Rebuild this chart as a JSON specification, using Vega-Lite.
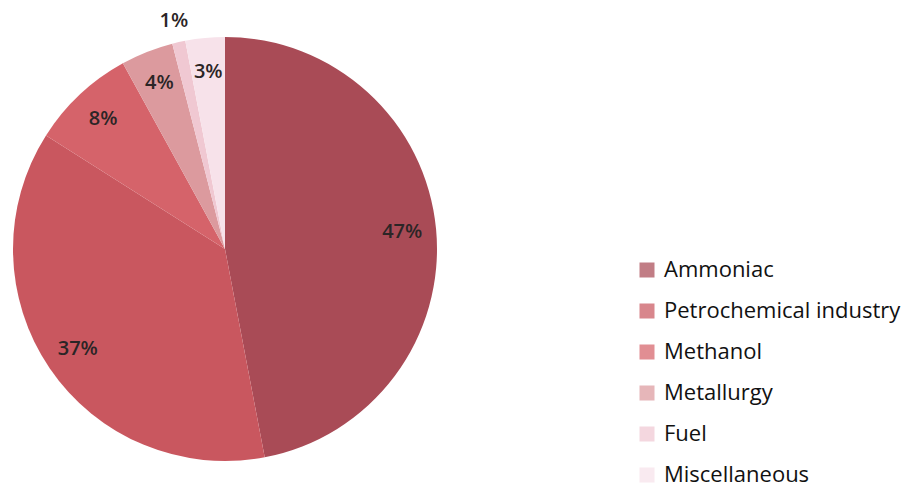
{
  "$schema": "https://vega.github.io/schema/vega-lite/v6.json",
  "width": 450,
  "height": 486,
  "padding": {"top": 6, "left": 0, "right": 0, "bottom": 0},
  "background": "white",
  "config": {"view": {"stroke": null}},
  "data": {
    "values": [
      {"sector": "Ammoniac", "share": 47, "rank": 1, "label": "47%"},
      {"sector": "Petrochemical industry", "share": 37, "rank": 2, "label": "37%"},
      {"sector": "Methanol", "share": 8, "rank": 3, "label": "8%"},
      {"sector": "Metallurgy", "share": 4, "rank": 4, "label": "4%"},
      {"sector": "Fuel", "share": 1, "rank": 5, "label": "1%"},
      {"sector": "Miscellaneous", "share": 3, "rank": 6, "label": "3%"}
    ]
  },
  "encoding": {
    "theta": {"field": "share", "type": "quantitative", "stack": true},
    "order": {"field": "rank", "type": "quantitative"}
  },
  "layer": [
    {
      "mark": {"type": "arc", "outerRadius": 212},
      "encoding": {
        "color": {
          "field": "sector",
          "type": "nominal",
          "sort": ["Ammoniac", "Petrochemical industry", "Methanol", "Metallurgy", "Fuel", "Miscellaneous"],
          "scale": {
            "domain": ["Ammoniac", "Petrochemical industry", "Methanol", "Metallurgy", "Fuel", "Miscellaneous"],
            "range": ["#a94b56", "#c9575f", "#d5636a", "#dc9a9e", "#f0c8d2", "#f7e2ea"]
          },
          "legend": {
            "title": null,
            "orient": "none",
            "legendX": 636,
            "legendY": 253,
            "symbolType": "square",
            "symbolSize": 225,
            "symbolOpacity": 0.72,
            "symbolStrokeWidth": 0,
            "labelFont": "Open Sans",
            "labelFontSize": 22,
            "labelFontWeight": 500,
            "labelColor": "#111111",
            "labelOffset": 6,
            "rowPadding": 19,
            "labelLimit": 400
          }
        }
      }
    },
    {
      "mark": {"type": "text", "radius": 178, "font": "Open Sans", "fontSize": 20, "fontWeight": 600, "color": "#2b2526"},
      "encoding": {
        "text": {"condition": {"test": "datum.share < 2", "value": ""}, "field": "label", "type": "nominal"}
      }
    },
    {
      "mark": {"type": "text", "radius": 234, "font": "Open Sans", "fontSize": 20, "fontWeight": 600, "color": "#2b2526"},
      "encoding": {
        "text": {"condition": {"test": "datum.share >= 2", "value": ""}, "field": "label", "type": "nominal"}
      }
    }
  ]
}
